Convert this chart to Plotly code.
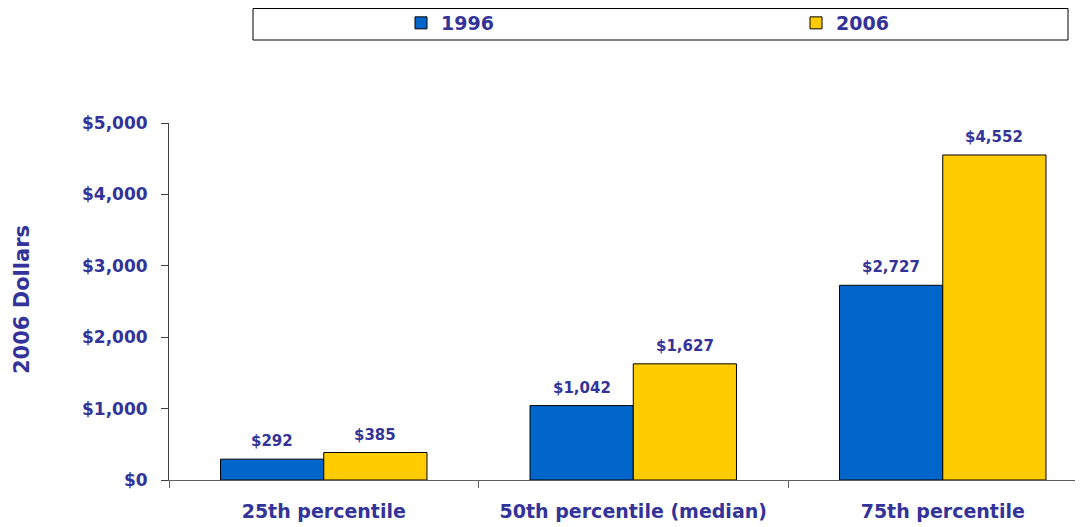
import plotly.graph_objects as go

categories = ["25th percentile", "50th percentile (median)", "75th percentile"]
values_1996 = [292, 1042, 2727]
values_2006 = [385, 1627, 4552]
series_names = ["1996", "2006"]
y_tickvals = [0, 1000, 2000, 3000, 4000, 5000]
y_ticktext = ["$0", "$1,000", "$2,000", "$3,000", "$4,000", "$5,000"]

TXT = "#333399"
FONT = "DejaVu Sans"

# page body adds an 8px offset; compensate so the figure lands on the 1083x527 window
OFF = 8
W, H = 1083 - OFF, 527 - OFF
ML, MR, MT, MB = 169 - OFF, 0, 123 - OFF, 47
PW, PH = W - ML - MR, H - MT - MB

def px2x(px):
    return (px - OFF - ML) / PW

def py2y(py):
    return (H - MB - (py - OFF)) / PH

def f(size):
    return dict(family=FONT, size=size, color=TXT, weight="bold")

BARGAP = 0.333
half = (1 - BARGAP) / 4  # centre offset of each bar inside its group

fig = go.Figure()
annotations = []
for k, (name, vals, col) in enumerate([(series_names[0], values_1996, "#0066CC"),
                                       (series_names[1], values_2006, "#FFCC00")]):
    fig.add_trace(go.Bar(
        name=name, x=categories, y=vals,
        marker=dict(color=col, line=dict(color="#000000", width=1)),
        hoverinfo="x+y",
    ))
    sgn = -1 if k == 0 else 1
    for i, v in enumerate(vals):
        annotations.append(dict(
            x=i + sgn * half, y=v, xref="x", yref="y",
            text=f"${v:,}", showarrow=False, yanchor="bottom", yshift=7,
            font=f(15),
        ))

annotations.append(dict(
    x=px2x(22), y=py2y(300), xref="paper", yref="paper",
    text="2006 Dollars", textangle=-90, showarrow=False,
    xanchor="center", yanchor="middle", font=f(21),
))

fig.update_layout(
    width=W, height=H,
    margin=dict(l=ML, r=MR, t=MT, b=MB, autoexpand=False),
    paper_bgcolor="white", plot_bgcolor="white",
    barmode="group", bargap=BARGAP, bargroupgap=0,
    font=f(15),
    showlegend=True,
    legend=dict(
        orientation="h", x=px2x(401), xanchor="left",
        y=py2y(23), yanchor="middle",
        bgcolor="rgba(0,0,0,0)", borderwidth=0,
        entrywidth=350, entrywidthmode="pixels",
        font=f(19),
    ),
    annotations=annotations,
    shapes=[dict(
        type="rect", xref="paper", yref="paper",
        x0=px2x(253), x1=px2x(1068), y0=py2y(40), y1=py2y(8.5),
        line=dict(color="#000000", width=1), fillcolor="rgba(0,0,0,0)",
        layer="below",
    )],
)

# categories are ~309.5px wide; the last group runs past the window edge
cat_w = 309.5
fig.update_xaxes(
    range=[-0.5, -0.5 + (1083 - 169) / cat_w],
    showline=True, linecolor="#606060", linewidth=1,
    ticks="outside", tickson="boundaries", ticklen=7, tickcolor="#606060",
    tickfont=f(19), ticklabelstandoff=14,
    showgrid=False, automargin=False,
)
fig.update_yaxes(
    range=[0, 5000], tickvals=y_tickvals, ticktext=y_ticktext,
    showline=True, linecolor="#404040", linewidth=1,
    ticks="outside", ticklen=7, tickcolor="#404040",
    tickfont=f(17),
    ticklabelstandoff=10,
    showgrid=False, zeroline=False, automargin=False,
)

fig.write_html("out.html")
